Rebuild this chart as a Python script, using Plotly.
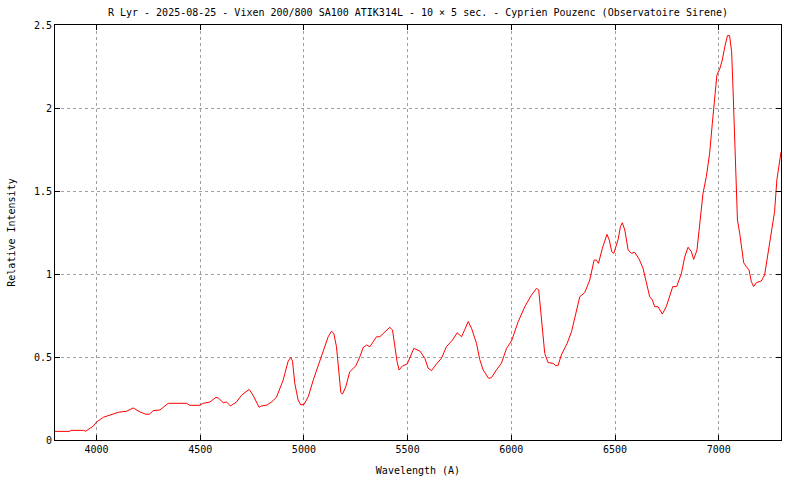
import plotly.graph_objects as go

wavelength = [3800, 3872, 3875, 3937, 3948, 3965, 3985, 4000, 4033, 4065, 4105, 4145, 4177, 4210, 4238, 4254,
              4274, 4306, 4322, 4346, 4434, 4450, 4495, 4515, 4547, 4576, 4587, 4611, 4627, 4646, 4675, 4699,
              4736, 4755, 4784, 4795, 4823, 4845, 4868, 4900, 4924, 4937, 4945, 4956, 4972, 4985, 5001, 5021,
              5045, 5069, 5093, 5117, 5133, 5144, 5157, 5170, 5178, 5186, 5202, 5221, 5250, 5270, 5286, 5302,
              5318, 5334, 5350, 5366, 5390, 5414, 5427, 5438, 5449, 5459, 5475, 5498, 5511, 5530, 5559, 5583,
              5599, 5615, 5639, 5663, 5687, 5716, 5739, 5760, 5776, 5792, 5808, 5832, 5848, 5864, 5890, 5904,
              5928, 5952, 5977, 6001, 6033, 6065, 6097, 6121, 6132, 6140, 6150, 6161, 6177, 6201, 6214, 6225,
              6241, 6269, 6290, 6314, 6330, 6354, 6378, 6399, 6410, 6420, 6439, 6461, 6472, 6484, 6494, 6515,
              6526, 6535, 6547, 6563, 6579, 6595, 6616, 6635, 6651, 6667, 6680, 6691, 6707, 6728, 6747, 6778,
              6797, 6820, 6836, 6852, 6868, 6879, 6895, 6908, 6924, 6940, 6956, 6969, 6980, 6991, 7004, 7017,
              7029, 7042, 7052, 7062, 7068, 7075, 7081, 7090, 7101, 7110, 7120, 7133, 7146, 7157, 7168, 7181,
              7205, 7221, 7237, 7253, 7269, 7280, 7290, 7300]
intensity = [0.052, 0.052, 0.058, 0.058, 0.053, 0.065, 0.084, 0.108, 0.137, 0.150, 0.167, 0.173, 0.193, 0.169, 0.155, 0.155,
             0.177, 0.181, 0.197, 0.221, 0.221, 0.209, 0.209, 0.221, 0.229, 0.257, 0.253, 0.225, 0.229, 0.205, 0.229, 0.269,
             0.305, 0.269, 0.197, 0.205, 0.211, 0.230, 0.258, 0.361, 0.475, 0.497, 0.475, 0.341, 0.241, 0.211, 0.215, 0.261,
             0.361, 0.452, 0.542, 0.622, 0.655, 0.643, 0.562, 0.381, 0.285, 0.277, 0.321, 0.411, 0.446, 0.502, 0.558, 0.572,
             0.562, 0.592, 0.622, 0.622, 0.652, 0.679, 0.663, 0.562, 0.472, 0.422, 0.446, 0.458, 0.492, 0.552, 0.536, 0.492,
             0.432, 0.418, 0.458, 0.492, 0.562, 0.602, 0.646, 0.622, 0.667, 0.713, 0.673, 0.582, 0.484, 0.422, 0.372, 0.375,
             0.422, 0.462, 0.552, 0.597, 0.713, 0.803, 0.873, 0.913, 0.904, 0.803, 0.643, 0.522, 0.466, 0.462, 0.448, 0.448,
             0.512, 0.582, 0.652, 0.783, 0.863, 0.888, 0.964, 1.084, 1.084, 1.064, 1.155, 1.239, 1.205, 1.134, 1.124, 1.209,
             1.285, 1.309, 1.265, 1.145, 1.124, 1.130, 1.090, 1.034, 0.944, 0.863, 0.843, 0.803, 0.803, 0.759, 0.803, 0.924,
             0.924, 1.004, 1.104, 1.161, 1.135, 1.088, 1.145, 1.285, 1.486, 1.586, 1.727, 1.908, 2.048, 2.199, 2.233, 2.289,
             2.369, 2.436, 2.436, 2.339, 2.139, 1.867, 1.586, 1.325, 1.245, 1.145, 1.068, 1.044, 1.024, 0.954, 0.924, 0.948,
             0.958, 0.994, 1.124, 1.265, 1.375, 1.566, 1.646, 1.735]

x_ticks = [4000, 4500, 5000, 5500, 6000, 6500, 7000]
x_tick_labels = ["4000", "4500", "5000", "5500", "6000", "6500", "7000"]
y_ticks = [0, 0.5, 1, 1.5, 2, 2.5]
y_tick_labels = ["0", "0.5", "1", "1.5", "2", "2.5"]

title_text = "R Lyr - 2025-08-25 - Vixen 200/800 SA100 ATIK314L - 10 × 5 sec. - Cyprien Pouzenc (Observatoire Sirene)"

FONT = "DejaVu Sans Mono"

fig = go.Figure()
fig.add_trace(go.Scatter(x=wavelength, y=intensity, mode="lines",
                         line=dict(color="#ff0000", width=1), showlegend=False))

axis_common = dict(
    showline=True, linecolor="black", linewidth=1, mirror="allticks",
    ticks="inside", ticklen=5, tickcolor="black", tickwidth=1,
    showgrid=True, gridcolor="#a0a0a0", griddash="dot", gridwidth=1,
    zeroline=False, automargin=False,
    tickfont=dict(family=FONT, size=10, color="black"),
)

fig.update_layout(
    width=800, height=480,
    paper_bgcolor="white", plot_bgcolor="white",
    margin=dict(l=55, r=19, t=25, b=40),
    font=dict(family=FONT, size=10, color="black"),
    title=dict(text=title_text, x=0.5, xref="paper", xanchor="center",
               y=1 - 12 / 480, yref="container", yanchor="middle",
               font=dict(family=FONT, size=10, color="black")),
    xaxis=dict(range=[3800, 7300], tickvals=x_ticks, ticktext=x_tick_labels,
               title=dict(text="Wavelength (A)", standoff=12,
                          font=dict(family=FONT, size=10)),
               **axis_common),
    yaxis=dict(range=[0, 2.5], tickvals=y_ticks, ticktext=y_tick_labels,
               title=dict(text="Relative Intensity", standoff=16,
                          font=dict(family=FONT, size=10)),
               **axis_common),
)

fig.write_html("out.html",
               config={"displayModeBar": False},
               post_script="document.body.style.margin='0';document.body.style.padding='0';")
